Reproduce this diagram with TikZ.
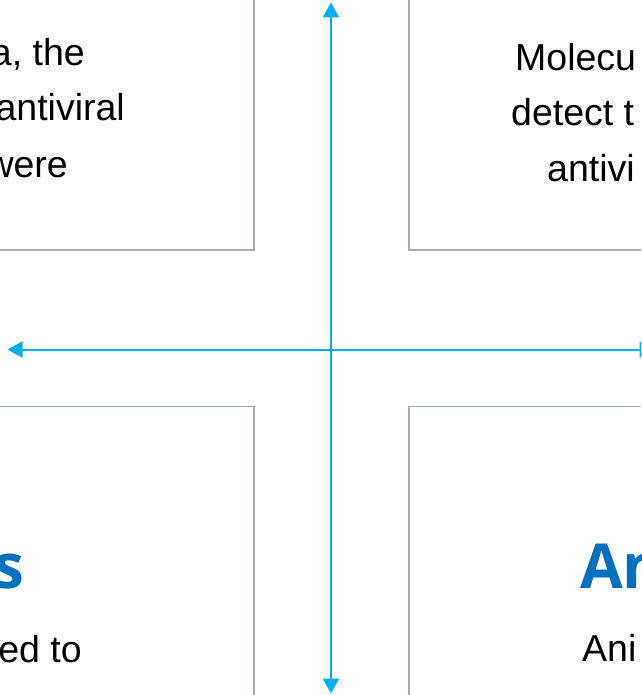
\documentclass[tikz,border=0pt]{standalone}
\usepackage{fontspec}
\setmainfont{Liberation Sans}
\newfontfamily\headfont{Open Sans}
\usetikzlibrary{arrows.meta}
\definecolor{axisblue}{HTML}{00B0F0}
\definecolor{boxgray}{HTML}{A3AEAB}
\definecolor{headblue}{HTML}{0070C0}
\tikzset{
  panel/.style={draw=boxgray, line width=1.2pt, fill=white},
  axis/.style={draw=axisblue, line width=2pt, {Triangle[width=16pt,length=15pt]}-{Triangle[width=16pt,length=15pt]}},
  bodytext/.style={font=\fontsize{37.5}{42}\selectfont, inner sep=0pt},
  headtext/.style={font=\headfont\bfseries\fontsize{62}{70}\selectfont, text=headblue, inner sep=0pt}
}
\begin{document}
\begin{tikzpicture}[x=1pt,y=-1pt]
  \useasboundingbox (0,0) rectangle (641,695);
  \clip (0,0) rectangle (641,695);
  \fill[white] (0,0) rectangle (641,695);

  % four quadrant panels
  \draw[panel] (-20,-20) rectangle (254,250);
  \draw[panel] (409,-20) rectangle (700,250);
  \draw[panel] (-20,406.5) rectangle (254,720);
  \draw[panel] (409,406.5) rectangle (700,720);

  % upper left panel text
  \node[bodytext, anchor=base east] (tl1) at (85,66) {a, the};
  \node[bodytext, anchor=base east] (tl2) at (125,121) {antiviral};
  \node[bodytext, anchor=base east] (tl3) at (68,177) {were};

  % upper right panel text
  \node[bodytext, anchor=base west] (tr1) at (515,71) {Molecu};
  \node[bodytext, anchor=base west] (tr2) at (511,126) {detect t};
  \node[bodytext, anchor=base west] (tr3) at (547,181) {antivi};

  % lower left panel text
  \node[headtext, anchor=base east] (bl1) at (25,588) {s};
  \node[bodytext, anchor=base east] (bl2) at (82,662) {ed to};

  % lower right panel text
  \node[headtext, anchor=base west] (br1) at (580,588) {An};
  \node[bodytext, anchor=base west] (br2) at (582,661) {Ani};

  % axes
  \coordinate (top) at (331,2.5);
  \coordinate (bottom) at (331,693.5);
  \coordinate (left) at (7.5,349.5);
  \coordinate (right) at (654.5,349.5);
  \draw[axis] (bottom) -- (top);
  \draw[axis] (left) -- (right);
\end{tikzpicture}
\end{document}
